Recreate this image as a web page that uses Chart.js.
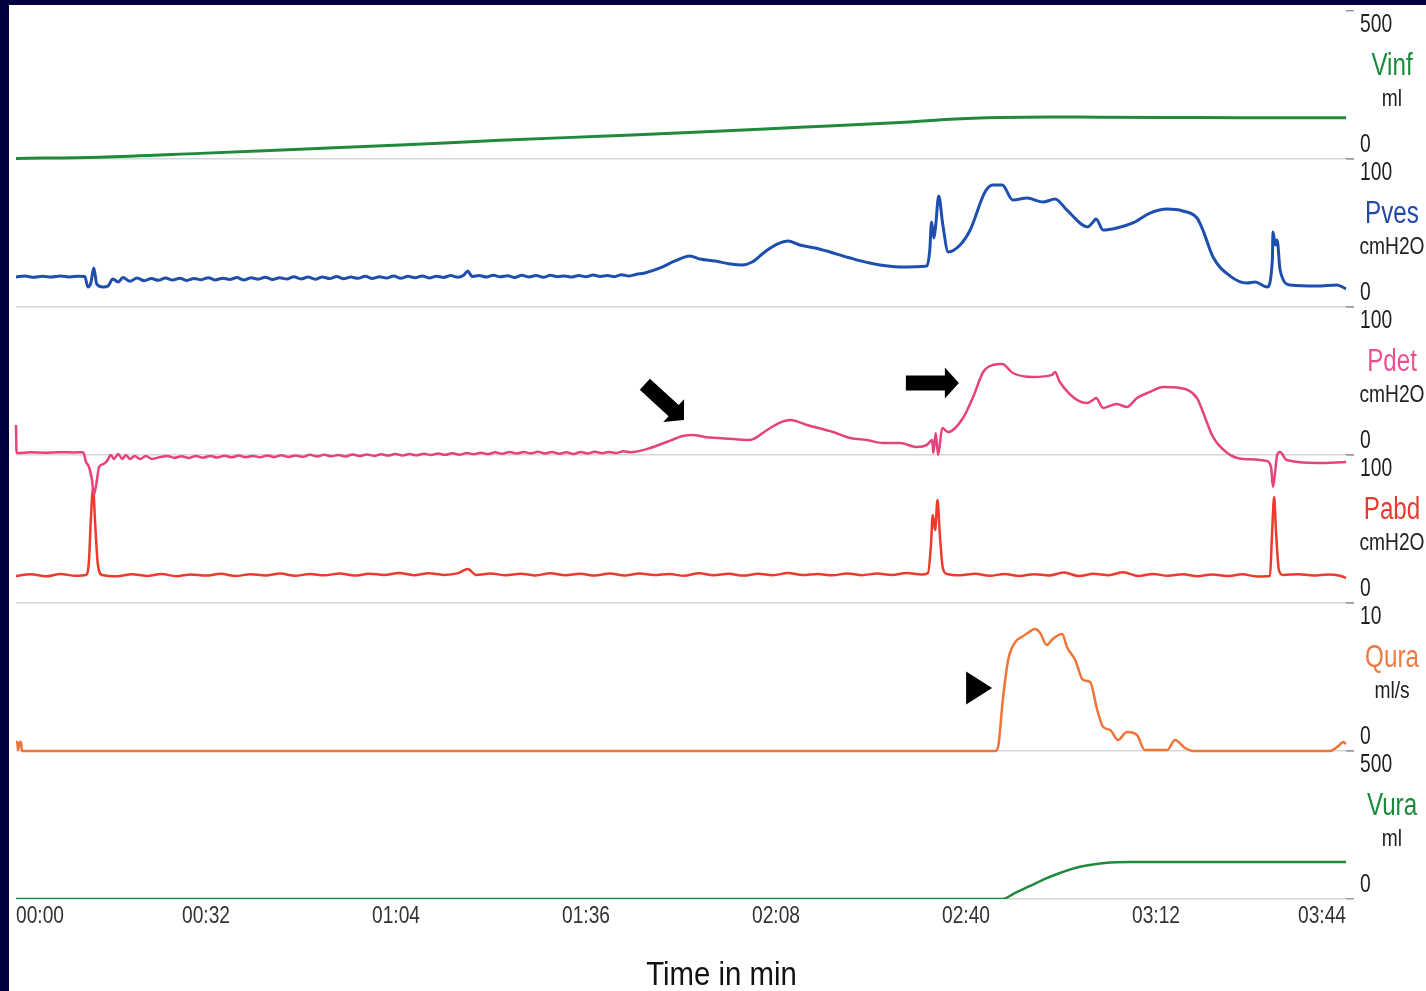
<!DOCTYPE html>
<html>
<head>
<meta charset="utf-8">
<title>Urodynamic trace</title>
<script src="https://cdn.jsdelivr.net/npm/chart.js@4.4.1/dist/chart.umd.min.js"></script>
<style>
  html, body { margin: 0; padding: 0; width: 1426px; height: 991px; overflow: hidden; background: #00003f; }
  #panel { position: absolute; left: 9px; top: 5px; width: 1417px; height: 986px; background: #fff; }
</style>
</head>
<body>
<div id="panel"><canvas id="uds" width="1417" height="986"></canvas></div>
<script>
// channels, top to bottom
const channelNames = ['Vinf', 'Pves', 'Pdet', 'Pabd', 'Qura', 'Vura'];
const channelUnits = ['ml', 'cmH2O', 'cmH2O', 'cmH2O', 'ml/s', 'ml'];
const rangeMin = [0, 0, 0, 0, 0, 0];
const rangeMax = [500, 100, 100, 100, 10, 500];
const timeTicks = [0, 32, 64, 96, 128, 160, 192, 224]; // seconds

// traces as [time s, value]
const vinf = [[0, 2], [14.1, 6], [31.0, 19], [47.8, 33], [64.7, 47], [81.5, 63], [98.4, 77], [115.2, 91], [132.0, 107],
  [148.9, 123], [157.3, 134], [165.7, 140], [174.1, 142], [182.6, 141], [199.4, 140], [216.3, 139], [224, 139]];

const pves = [[0, 20.3], [1.5, 20.9], [3.0, 20.1], [4.5, 20.8], [6.0, 20.2], [7.5, 20.9], [9.0, 20.3], [10.5, 20.8], [11.6, 20.6],
  [12.1, 13.5], [12.6, 16.2], [13.1, 26.4], [13.6, 15.5], [14.7, 13.5], [15.5, 14.2], [16.3, 18.9],
  [17.2, 16.9], [18.0, 19.9], [19.2, 17.4], [20.4, 19.6], [21.6, 17.8], [22.8, 19.2], [24.0, 18.0], [25.2, 19.6], [26.4, 18.2],
  [27.6, 19.4], [28.8, 17.9], [30.0, 19.3], [31.2, 18.4], [32.4, 19.8], [33.6, 18.3], [34.8, 19.5], [36.0, 18.6], [37.2, 19.9],
  [38.4, 18.2], [39.6, 19.7], [40.8, 18.8], [42.0, 20.1], [43.2, 18.6], [44.4, 19.8], [45.6, 18.9], [46.8, 20.4], [48.0, 19.0],
  [49.2, 20.2], [50.4, 18.8], [51.6, 20.3], [52.8, 19.2], [54.0, 20.6], [55.2, 19.1], [56.4, 20.2], [57.6, 19.4], [58.8, 20.8],
  [60.0, 19.3], [61.2, 20.5], [62.4, 19.6], [63.6, 20.9], [64.8, 19.4], [66.0, 20.7], [67.2, 19.8], [68.4, 21.0], [69.6, 19.6],
  [70.8, 20.8], [72.0, 20.0], [73.2, 21.2], [74.4, 20.1], [75.4, 21.5], [76.1, 24.3], [76.8, 20.6], [78.0, 21.3], [79.2, 20.2],
  [80.4, 21.4], [81.6, 20.4], [82.8, 21.1], [84.0, 20.0], [85.2, 21.5], [86.4, 20.3], [87.6, 21.2], [88.8, 20.1], [90.0, 21.4],
  [91.2, 20.5], [92.4, 21.0], [93.6, 20.2], [94.8, 21.3], [96.0, 20.4], [97.2, 21.6], [98.4, 20.6], [99.6, 21.2], [100.8, 20.5],
  [102.0, 21.8], [103.2, 20.9], [104.4, 22.0], [105.9, 23.0], [108.5, 26.4], [111.0, 31.1], [113.5, 34.5], [115.2, 32.4],
  [117.7, 31.1], [120.3, 29.1], [122.3, 28.4], [124.0, 30.4], [126.1, 37.2], [128.3, 42.6], [130.0, 44.6], [132.0, 41.9],
  [134.6, 39.9], [137.1, 37.2], [140.5, 33.1], [143.8, 29.7], [148.9, 27.0], [153.4, 27.7], [153.9, 38.5], [154.2, 57.4],
  [154.6, 46.6], [154.9, 55.4], [155.4, 75.0], [156.1, 55.4], [157.0, 37.2], [159.0, 41.9], [160.7, 52.0], [163.2, 77.7],
  [164.5, 82.4], [166.1, 82.4], [167.9, 72.3], [170.3, 73.6], [173.0, 70.9], [175.0, 73.0], [177.0, 65.5], [180.5, 54.1],
  [181.4, 57.4], [181.9, 59.5], [183.1, 52.0], [185.4, 53.4], [188.1, 56.8], [191.0, 63.5], [193.9, 66.2], [196.5, 64.9],
  [198.9, 60.1], [199.9, 52.0], [201.6, 33.8], [204.5, 20.9], [207.3, 16.2], [208.7, 16.9], [210.7, 13.5], [211.6, 31.8],
  [211.7, 50.7], [212.1, 41.9], [212.4, 45.3], [212.9, 25.0], [214.6, 14.9], [219.1, 14.2], [222.5, 14.9], [224, 12.2]];

const pdet = [[0, 20.3], [0.1, 1.4], [2.4, 1.8], [4.9, 1.6], [7.4, 1.9], [9.9, 1.7], [11.3, 1.9], [11.8, -4.7], [12.3, -8.1],
  [12.8, -16.9], [13.1, -27.0], [13.5, -20.3], [14.0, -8.1], [14.7, -6.1], [15.3, -4.1], [16.0, 0], [16.5, -2.7], [17.2, 0.7],
  [17.9, -2.7], [18.5, 0], [19.2, -2.7], [20.0, -0.7], [20.9, -2.7], [21.9, -0.7], [22.9, -2.7], [24.3, -1.4],
  [25.5, -0.6], [26.7, -1.9], [27.9, -0.8], [29.1, -2.0], [30.3, -0.7], [31.5, -1.8], [32.7, -0.6], [33.9, -1.7], [35.1, -0.5],
  [36.3, -1.6], [37.5, -0.4], [38.7, -1.5], [39.9, -0.6], [41.1, -1.6], [42.3, -0.3], [43.5, -1.4], [44.7, -0.2], [45.9, -1.3],
  [47.1, -0.4], [48.3, -1.2], [49.5, 0.1], [50.7, -1.0], [51.9, 0.2], [53.1, -0.9], [54.3, 0.0], [55.5, -1.0], [56.7, 0.3],
  [57.9, -0.7], [59.1, 0.4], [60.3, -0.6], [61.5, 0.5], [62.7, -0.4], [63.9, 0.7], [65.1, -0.3], [66.3, 0.6], [67.5, -0.2],
  [68.7, 0.9], [69.9, 0.0], [71.1, 1.0], [72.3, 0.1], [73.5, 1.2], [74.7, 0.2], [75.9, 1.4], [77.1, 0.5], [78.3, 1.5],
  [79.5, 0.6], [80.7, 1.8], [81.9, 0.8], [83.1, 2.0], [84.3, 1.0], [85.5, 2.1], [86.7, 1.1], [87.9, 2.2], [89.1, 1.0],
  [90.3, 2.0], [91.5, 0.9], [92.7, 1.8], [93.9, 0.7], [95.1, 2.0], [96.3, 1.0], [97.5, 2.2], [98.7, 1.2], [99.9, 2.1],
  [101.1, 1.3], [102.3, 2.6], [103.5, 1.9], [106.8, 4.7], [109.6, 8.8], [112.3, 12.8], [114.0, 13.5], [116.0, 12.2],
  [118.1, 11.5], [120.8, 10.8], [123.6, 10.1], [126.5, 16.9], [128.5, 21.6], [130.4, 23.6], [133.2, 20.3], [137.6, 15.5],
  [140.5, 11.5], [143.3, 10.1], [146.0, 8.1], [148.9, 8.1], [151.7, 5.4], [153.4, 6.8], [154.3, 10.1], [154.5, 1.4],
  [154.9, 14.9], [155.3, 0], [156.0, 18.2], [157.0, 15.5], [159.5, 25.0], [161.2, 39.2], [162.9, 56.1], [164.5, 60.8],
  [166.1, 61.5], [167.9, 55.4], [171.3, 52.7], [174.5, 54.1], [175.0, 56.1], [175.8, 49.3], [180.4, 35.1], [181.4, 37.2],
  [181.9, 38.5], [183.1, 31.8], [185.4, 34.5], [187.1, 32.4], [188.8, 38.5], [191.0, 42.6], [193.2, 45.9], [196.0, 45.3],
  [198.9, 38.5], [199.9, 29.1], [201.6, 12.2], [204.0, 1.4], [206.7, -2.7], [210.7, -4.1], [211.4, -8.8], [211.7, -21.6],
  [212.1, -10.1], [212.4, 0], [212.9, 2.0], [214.0, -3.4], [219.1, -5.4], [224, -4.7]];

const pabd = [[0, 18.2], [2.5, 19.4], [5, 18.0], [7.5, 19.6], [10, 18.4], [11.8, 18.9], [12.3, 29.1], [12.6, 56.1], [13.0, 77.7],
  [13.3, 56.1], [13.8, 25.7], [14.5, 18.9], [17, 18.0], [19.5, 19.4], [22, 18.3], [24.5, 19.6], [27, 18.1], [29.5, 19.3],
  [32, 18.5], [34.5, 19.7], [37, 18.2], [39.5, 19.5], [42, 18.6], [44.5, 19.9], [47, 18.4], [49.5, 19.6], [52, 18.7],
  [54.5, 20.0], [57, 18.5], [59.5, 19.8], [62, 18.9], [64.5, 20.3], [67, 18.8], [69.5, 20.1], [72, 19.0], [74.5, 20.2],
  [76.1, 23.0], [77.5, 18.9], [80, 20.0], [82.5, 18.7], [85, 19.8], [87.5, 18.6], [90, 20.1], [92.5, 18.8], [95, 19.7],
  [97.5, 18.5], [100, 19.9], [102.5, 18.6], [105, 20.0], [107.5, 18.9], [110, 19.6], [112.5, 18.4], [115, 20.1], [117.5, 18.7],
  [120, 19.8], [122.5, 18.5], [125, 19.7], [127.5, 18.8], [130, 20.2], [132.5, 18.9], [135, 19.6], [137.5, 18.7], [140, 20.0],
  [142.5, 18.8], [145, 19.9], [147.5, 18.9], [150, 20.3], [152.5, 19.2], [153.6, 20.3], [154.1, 39.2], [154.4, 59.5],
  [154.8, 49.3], [155.2, 69.6], [155.6, 45.9], [156.1, 23.6], [156.8, 19.6], [159, 18.7], [161.5, 19.8], [164, 18.4],
  [166.5, 19.6], [169, 18.3], [171.5, 19.5], [174, 18.6], [176.5, 20.6], [179, 18.2], [181.5, 19.7], [184, 18.8], [186.5, 20.7],
  [189, 18.3], [191.5, 19.6], [194, 18.4], [196.5, 19.5], [199, 18.1], [201.5, 19.3], [204, 18.2], [206.5, 19.4], [209, 17.9],
  [211.2, 18.2], [211.5, 42.6], [211.9, 71.6], [212.2, 49.3], [212.7, 22.3], [213.4, 18.9], [216, 19.5], [218.5, 18.6],
  [221, 19.3], [223, 18.4], [224, 16.9]];

const qura = [[0, 0.6], [0.2, 0.6], [0.35, 0.07], [0.6, 0.6], [0.85, 0.6], [1.0, 0], [164.9, 0], [165.4, 0.27], [166.2, 3.45],
  [167.1, 6.15], [168.3, 7.36], [169.4, 7.70], [170.4, 7.97], [171.6, 8.24], [172.5, 7.97], [173.6, 7.16], [174.6, 7.57],
  [176.2, 7.91], [177.0, 7.03], [178.4, 6.15], [179.7, 4.80], [180.9, 4.66], [182.1, 2.77], [183.1, 1.62], [184.3, 1.42],
  [185.6, 0.74], [187.1, 1.28], [188.8, 1.08], [190.1, 0.07], [193.9, 0.07], [195.2, 0.74], [196.9, 0.2], [198.2, 0],
  [221.3, 0], [222.7, 0.34], [223.5, 0.6], [224, 0.47]];

const vura = [[0, 0], [166.2, 0], [168.2, 20], [170.8, 44], [173.3, 68], [175.8, 88], [178.4, 105], [180.9, 115],
  [183.4, 122], [187.6, 125], [199.4, 125], [224, 125]];

const traces = [vinf, pves, pdet, pabd, qura, vura];

// styles
const lineColors = ['#1f8a3c', '#1f4fae', '#e5427e', '#ec3a2c', '#f07436', '#1f8a3c'];
const labelColors = ['#1c8a3c', '#2348a8', '#ec5090', '#e83a2e', '#ef7a40', '#1c8a3c'];
const lineWidths = [3, 3, 2.5, 2.5, 2.5, 2.5];
const FONT = '"Liberation Sans", Arial, sans-serif';

function mmss(v) {
  const m = Math.floor(v / 60), s = Math.round(v % 60);
  return String(m).padStart(2, '0') + ':' + String(s).padStart(2, '0');
}

// condensed text, the original uses a narrow face
function narrowText(ctx, text, x, y, align, size, sx) {
  ctx.save();
  ctx.translate(x, y);
  ctx.scale(sx, 1);
  ctx.font = size + 'px ' + FONT;
  ctx.textAlign = align;
  ctx.textBaseline = 'middle';
  ctx.fillText(text, 0, 0);
  ctx.restore();
}

const scales = {
  x: {
    type: 'linear', min: 0, max: 224,
    afterBuildTicks: s => { s.ticks = timeTicks.map(v => ({ value: v })); },
    ticks: { display: false },
    grid: { display: false },
    border: { display: false },
    afterFit: s => { s.height = 92; }
  }
};
channelNames.forEach((name, i) => {
  scales['y' + i] = {
    type: 'linear', position: 'right', stack: 'uds', stackWeight: 1,
    min: rangeMin[i], max: rangeMax[i],
    afterBuildTicks: s => { s.ticks = [{ value: rangeMin[i] }, { value: rangeMax[i] }]; },
    ticks: { display: false },
    grid: {
      color: c => (c.tick && c.tick.value === rangeMin[i]) ? '#d3d7d7' : 'rgba(0,0,0,0)',
      lineWidth: 1.5, tickLength: 8, tickColor: '#9a9a9a', tickWidth: 1.5
    },
    border: { display: false },
    afterFit: s => { s.width = 80; }
  };
});

// black markers placed in data space: [time, channel index, value, angle]
const arrowMarks = [[112.5, 2, 23.6, 0.74], [158.8, 2, 48.6, 0]];
const triangleMarks = [[164.4, 4, 4.26]];

const sidePanel = {
  id: 'sidePanel',
  afterDatasetsDraw(chart) {
    const ctx = chart.ctx, xs = chart.scales.x;
    ctx.save();
    ctx.fillStyle = '#000';
    arrowMarks.forEach(([t, ch, v, ang]) => {
      const px = xs.getPixelForValue(t), py = chart.scales['y' + ch].getPixelForValue(v);
      ctx.save();
      ctx.translate(px, py);
      ctx.rotate(ang);
      ctx.beginPath();
      ctx.moveTo(0, 0);
      ctx.lineTo(-14, -15.5); ctx.lineTo(-14, -7.5); ctx.lineTo(-53, -7.5);
      ctx.lineTo(-53, 7.5); ctx.lineTo(-14, 7.5); ctx.lineTo(-14, 15.5);
      ctx.closePath();
      ctx.fill();
      ctx.restore();
    });
    triangleMarks.forEach(([t, ch, v]) => {
      const px = xs.getPixelForValue(t), py = chart.scales['y' + ch].getPixelForValue(v);
      ctx.beginPath();
      ctx.moveTo(px, py); ctx.lineTo(px - 26, py - 16.5); ctx.lineTo(px - 26, py + 16.5);
      ctx.closePath();
      ctx.fill();
    });
    ctx.restore();
  },
  afterDraw(chart) {
    const ctx = chart.ctx, xs = chart.scales.x, area = chart.chartArea;
    ctx.save();
    channelNames.forEach((name, i) => {
      const s = chart.scales['y' + i];
      ctx.fillStyle = '#222';
      narrowText(ctx, String(rangeMax[i]), s.left + 14, s.top + 14, 'left', 25, 0.77);
      narrowText(ctx, String(rangeMin[i]), s.left + 14, s.bottom - 14, 'left', 25, 0.77);
      ctx.fillStyle = labelColors[i];
      narrowText(ctx, name, s.left + 46, s.top + 55, 'center', 31, 0.78);
      ctx.fillStyle = '#222';
      narrowText(ctx, channelUnits[i], s.left + 46, s.top + 88, 'center', 24, 0.8);
    });
    ctx.fillStyle = '#333';
    timeTicks.forEach((t, k) => {
      const align = k === 0 ? 'left' : (k === timeTicks.length - 1 ? 'right' : 'center');
      narrowText(ctx, mmss(t), xs.getPixelForValue(t), area.bottom + 17, align, 24, 0.8);
    });
    ctx.fillStyle = '#111';
    narrowText(ctx, 'Time in min', chart.width / 2 + 4, chart.height - 15, 'center', 33, 0.89);
    ctx.restore();
  }
};

new Chart(document.getElementById('uds'), {
  type: 'line',
  data: {
    datasets: channelNames.map((name, i) => ({
      label: name,
      data: traces[i].map(p => ({ x: p[0], y: p[1] })),
      xAxisID: 'x',
      yAxisID: 'y' + i,
      borderColor: lineColors[i],
      borderWidth: lineWidths[i],
      pointRadius: 0,
      cubicInterpolationMode: 'monotone',
      fill: false,
      clip: i === 5 ? 0 : false
    }))
  },
  options: {
    responsive: false,
    animation: false,
    devicePixelRatio: 1,
    layout: { padding: { left: 7, top: 6, right: 0, bottom: 0 } },
    plugins: { legend: { display: false }, tooltip: { enabled: false } },
    scales: scales
  },
  plugins: [sidePanel]
});
</script>
</body>
</html>
